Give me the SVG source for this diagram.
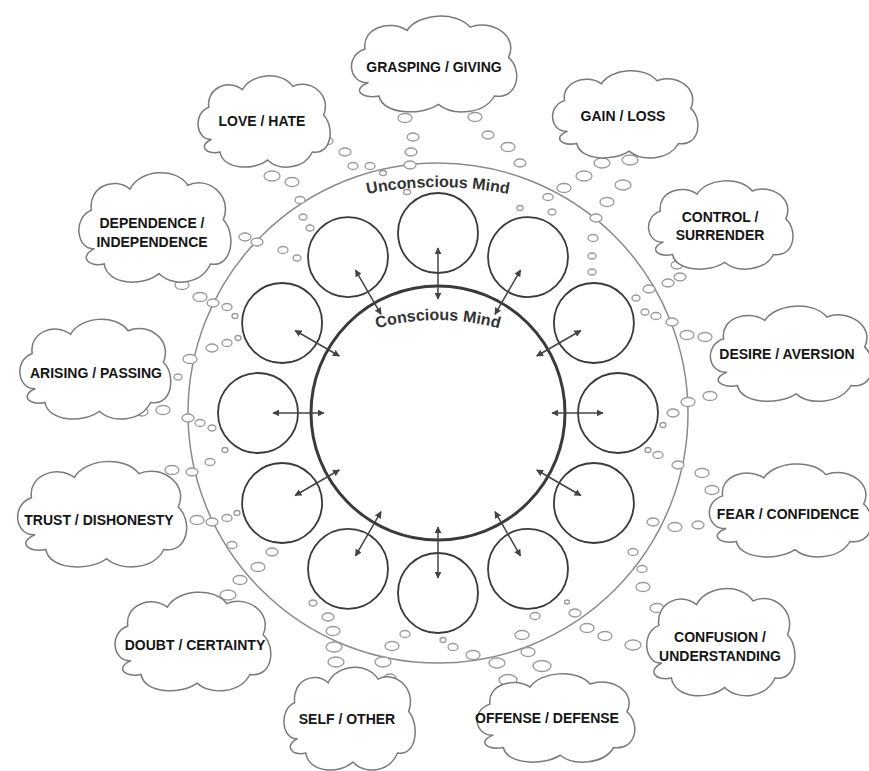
<svg xmlns="http://www.w3.org/2000/svg" xmlns:xlink="http://www.w3.org/1999/xlink" width="869" height="771" viewBox="0 0 869 771">
<style>
.cl{fill:#fff;stroke:#7a7a7a;stroke-width:1.5}
.ct{font-family:"Liberation Sans",Arial,sans-serif;font-weight:bold;font-size:14px;fill:#151515;text-anchor:middle}
.b{fill:#fff;stroke:#9a9a9a;stroke-width:1.3}
.rc{fill:#fff;stroke:#3a3a3a;stroke-width:1.8}
.ar{stroke:#444;stroke-width:1.5;fill:none;marker-start:url(#ah);marker-end:url(#ah)}
.mt{font-family:"Liberation Sans",Arial,sans-serif;font-weight:bold;font-size:16px;fill:#333;text-anchor:middle}
</style>
<defs>
<path id="cloud" vector-effect="non-scaling-stroke" d="M 14 42 C 3 43, 0 26, 12 22 C 10 10, 26 4, 36 11 C 42 1, 64 -1, 72 9 C 84 4, 100 14, 94 27 C 102 34, 100 52, 86 50 C 80 61, 62 62, 54 55 C 44 62, 22 61, 20 50 C 10 52, 4 46, 14 42 Z"/>
<marker id="ah" viewBox="0 0 10 10" refX="9" refY="5" markerWidth="7" markerHeight="7" markerUnits="userSpaceOnUse" orient="auto-start-reverse">
<path d="M0,0 L10,5 L0,10 z" fill="#444"/>
</marker>
<path id="uPath" d="M 350 198 A 360 360 0 0 1 526 198"/>
<path id="cPath" d="M 354 336 A 230 230 0 0 1 522 336"/>
</defs>
<rect width="869" height="771" fill="#fff"/>

<g id="unconscious-mind">
<circle cx="438" cy="413" r="250" fill="none" stroke="#8a8a8a" stroke-width="1.5"/>
<text class="mt"><textPath href="#uPath" startOffset="50%">Unconscious Mind</textPath></text>
</g>

<g id="bubbles">
<ellipse class="b" cx="405" cy="118" rx="7" ry="4.5"/>
<ellipse class="b" cx="475" cy="117" rx="7" ry="4.5"/>
<ellipse class="b" cx="413" cy="137" rx="6" ry="4"/>
<ellipse class="b" cx="488" cy="135" rx="6" ry="4"/>
<ellipse class="b" cx="411" cy="152" rx="6" ry="4"/>
<ellipse class="b" cx="410" cy="165" rx="6" ry="4"/>
<ellipse class="b" cx="407" cy="192" rx="3.5" ry="2.5"/>
<ellipse class="b" cx="370" cy="166" rx="5" ry="3.5"/>
<ellipse class="b" cx="383" cy="173" rx="3.5" ry="2.5"/>
<ellipse class="b" cx="328" cy="141" rx="5" ry="3.5"/>
<ellipse class="b" cx="345" cy="152" rx="6" ry="4"/>
<ellipse class="b" cx="353" cy="166" rx="5" ry="3.5"/>
<ellipse class="b" cx="272" cy="176" rx="8" ry="5"/>
<ellipse class="b" cx="292" cy="182" rx="7" ry="4.5"/>
<ellipse class="b" cx="300" cy="200" rx="5" ry="3.5"/>
<ellipse class="b" cx="303" cy="217" rx="4" ry="3"/>
<ellipse class="b" cx="310" cy="228" rx="4" ry="3"/>
<ellipse class="b" cx="283" cy="250" rx="5" ry="3.5"/>
<ellipse class="b" cx="297" cy="258" rx="4" ry="3"/>
<ellipse class="b" cx="508" cy="147" rx="7" ry="4.5"/>
<ellipse class="b" cx="520" cy="163" rx="6" ry="4"/>
<ellipse class="b" cx="602" cy="163" rx="8" ry="5"/>
<ellipse class="b" cx="630" cy="160" rx="8" ry="5"/>
<ellipse class="b" cx="584" cy="176" rx="8" ry="5"/>
<ellipse class="b" cx="623" cy="185" rx="8" ry="5"/>
<ellipse class="b" cx="564" cy="188" rx="7" ry="4.5"/>
<ellipse class="b" cx="607" cy="202" rx="7" ry="4.5"/>
<ellipse class="b" cx="548" cy="197" rx="5" ry="3.5"/>
<ellipse class="b" cx="520" cy="208" rx="3" ry="2.5"/>
<ellipse class="b" cx="552" cy="212" rx="4" ry="3"/>
<ellipse class="b" cx="596" cy="218" rx="6" ry="4"/>
<ellipse class="b" cx="593" cy="238" rx="5" ry="3.5"/>
<ellipse class="b" cx="592" cy="256" rx="4" ry="3"/>
<ellipse class="b" cx="592" cy="272" rx="4" ry="3"/>
<ellipse class="b" cx="677" cy="265" rx="6" ry="4"/>
<ellipse class="b" cx="680" cy="277" rx="6" ry="4"/>
<ellipse class="b" cx="668" cy="283" rx="6" ry="4"/>
<ellipse class="b" cx="649" cy="289" rx="6" ry="4"/>
<ellipse class="b" cx="636" cy="298" rx="4" ry="3"/>
<ellipse class="b" cx="645" cy="312" rx="4" ry="3"/>
<ellipse class="b" cx="656" cy="316" rx="5" ry="3.5"/>
<ellipse class="b" cx="672" cy="322" rx="6" ry="4"/>
<ellipse class="b" cx="687" cy="335" rx="7" ry="4.5"/>
<ellipse class="b" cx="705" cy="337" rx="7" ry="4.5"/>
<ellipse class="b" cx="688" cy="402" rx="7" ry="4.5"/>
<ellipse class="b" cx="710" cy="396" rx="7" ry="4.5"/>
<ellipse class="b" cx="673" cy="413" rx="6" ry="4"/>
<ellipse class="b" cx="663" cy="425" rx="3" ry="2.5"/>
<ellipse class="b" cx="648" cy="450" rx="3" ry="2.5"/>
<ellipse class="b" cx="658" cy="455" rx="5" ry="3.5"/>
<ellipse class="b" cx="678" cy="465" rx="6" ry="4"/>
<ellipse class="b" cx="702" cy="473" rx="7" ry="4.5"/>
<ellipse class="b" cx="712" cy="490" rx="7" ry="4.5"/>
<ellipse class="b" cx="653" cy="522" rx="6" ry="4"/>
<ellipse class="b" cx="675" cy="527" rx="7" ry="4.5"/>
<ellipse class="b" cx="698" cy="525" rx="6" ry="4"/>
<ellipse class="b" cx="633" cy="552" rx="5" ry="3.5"/>
<ellipse class="b" cx="642" cy="569" rx="5" ry="3.5"/>
<ellipse class="b" cx="643" cy="587" rx="7" ry="4.5"/>
<ellipse class="b" cx="657" cy="608" rx="7" ry="4.5"/>
<ellipse class="b" cx="633" cy="645" rx="8" ry="5"/>
<ellipse class="b" cx="605" cy="636" rx="7" ry="4.5"/>
<ellipse class="b" cx="587" cy="628" rx="7" ry="4.5"/>
<ellipse class="b" cx="575" cy="613" rx="6" ry="4"/>
<ellipse class="b" cx="567" cy="602" rx="2.5" ry="2"/>
<ellipse class="b" cx="535" cy="616" rx="5" ry="3.5"/>
<ellipse class="b" cx="522" cy="635" rx="7" ry="4.5"/>
<ellipse class="b" cx="528" cy="652" rx="7" ry="4.5"/>
<ellipse class="b" cx="542" cy="666" rx="9" ry="5.5"/>
<ellipse class="b" cx="508" cy="680" rx="9" ry="5.5"/>
<ellipse class="b" cx="497" cy="663" rx="8" ry="5"/>
<ellipse class="b" cx="473" cy="655" rx="7" ry="4.5"/>
<ellipse class="b" cx="453" cy="647" rx="5" ry="3.5"/>
<ellipse class="b" cx="443" cy="640" rx="3" ry="2.5"/>
<ellipse class="b" cx="272" cy="552" rx="6" ry="4"/>
<ellipse class="b" cx="258" cy="567" rx="7" ry="4.5"/>
<ellipse class="b" cx="240" cy="580" rx="7" ry="4.5"/>
<ellipse class="b" cx="228" cy="595" rx="8" ry="5"/>
<ellipse class="b" cx="232" cy="545" rx="5" ry="3.5"/>
<ellipse class="b" cx="313" cy="603" rx="4" ry="3"/>
<ellipse class="b" cx="328" cy="617" rx="6" ry="4"/>
<ellipse class="b" cx="333" cy="631" rx="7" ry="4.5"/>
<ellipse class="b" cx="334" cy="647" rx="8" ry="5"/>
<ellipse class="b" cx="336" cy="662" rx="8" ry="5"/>
<ellipse class="b" cx="383" cy="662" rx="8" ry="5"/>
<ellipse class="b" cx="392" cy="646" rx="7" ry="4.5"/>
<ellipse class="b" cx="405" cy="634" rx="5" ry="3.5"/>
<ellipse class="b" cx="390" cy="678" rx="6" ry="4"/>
<ellipse class="b" cx="245" cy="237" rx="6" ry="4"/>
<ellipse class="b" cx="257" cy="242" rx="6" ry="4"/>
<ellipse class="b" cx="182" cy="285" rx="7" ry="4.5"/>
<ellipse class="b" cx="200" cy="297" rx="7" ry="4.5"/>
<ellipse class="b" cx="213" cy="303" rx="6" ry="4"/>
<ellipse class="b" cx="227" cy="307" rx="5" ry="3.5"/>
<ellipse class="b" cx="235" cy="316" rx="3" ry="2.5"/>
<ellipse class="b" cx="238" cy="338" rx="3" ry="2.5"/>
<ellipse class="b" cx="227" cy="343" rx="5" ry="3.5"/>
<ellipse class="b" cx="212" cy="348" rx="6" ry="4"/>
<ellipse class="b" cx="190" cy="359" rx="7" ry="4.5"/>
<ellipse class="b" cx="178" cy="377" rx="4" ry="3"/>
<ellipse class="b" cx="163" cy="410" rx="7" ry="4.5"/>
<ellipse class="b" cx="142" cy="412" rx="6" ry="4"/>
<ellipse class="b" cx="188" cy="418" rx="6" ry="4"/>
<ellipse class="b" cx="200" cy="423" rx="5" ry="3.5"/>
<ellipse class="b" cx="212" cy="428" rx="4" ry="3"/>
<ellipse class="b" cx="225" cy="450" rx="3" ry="2.5"/>
<ellipse class="b" cx="210" cy="462" rx="5" ry="3.5"/>
<ellipse class="b" cx="192" cy="472" rx="6" ry="4"/>
<ellipse class="b" cx="172" cy="470" rx="7" ry="4.5"/>
<ellipse class="b" cx="152" cy="480" rx="7" ry="4.5"/>
<ellipse class="b" cx="170" cy="522" rx="8" ry="5"/>
<ellipse class="b" cx="197" cy="520" rx="7" ry="4.5"/>
<ellipse class="b" cx="212" cy="522" rx="6" ry="4"/>
<ellipse class="b" cx="227" cy="518" rx="5" ry="3.5"/>
<ellipse class="b" cx="237" cy="513" rx="3" ry="2.5"/>
</g>

<g id="cloud-grasping-giving">
<use href="#cloud" class="cl" transform="translate(344,12) scale(1.75,1.68)"/>
<text class="ct" x="434" y="72">GRASPING / GIVING</text>
</g>
<g id="cloud-gain-loss">
<use href="#cloud" class="cl" transform="translate(546,67) scale(1.54,1.53)"/>
<text class="ct" x="623" y="121">GAIN / LOSS</text>
</g>
<g id="cloud-control-surrender">
<use href="#cloud" class="cl" transform="translate(642,177) scale(1.53,1.55)"/>
<text class="ct" x="720" y="222">CONTROL /</text>
<text class="ct" x="720" y="240">SURRENDER</text>
</g>
<g id="cloud-desire-aversion">
<use href="#cloud" class="cl" transform="translate(703,302) scale(1.72,1.67)"/>
<text class="ct" x="787" y="359">DESIRE / AVERSION</text>
</g>
<g id="cloud-fear-confidence">
<use href="#cloud" class="cl" transform="translate(702,460) scale(1.72,1.63)"/>
<text class="ct" x="788" y="519">FEAR / CONFIDENCE</text>
</g>
<g id="cloud-confusion-understanding">
<use href="#cloud" class="cl" transform="translate(640,584) scale(1.57,1.88)"/>
<text class="ct" x="720" y="642">CONFUSION /</text>
<text class="ct" x="720" y="661">UNDERSTANDING</text>
</g>
<g id="cloud-offense-defense">
<use href="#cloud" class="cl" transform="translate(470,670) scale(1.67,1.55)"/>
<text class="ct" x="547" y="723">OFFENSE / DEFENSE</text>
</g>
<g id="cloud-self-other">
<use href="#cloud" class="cl" transform="translate(278,663) scale(1.39,1.8)"/>
<text class="ct" x="347" y="724">SELF / OTHER</text>
</g>
<g id="cloud-doubt-certainty">
<use href="#cloud" class="cl" transform="translate(108,588) scale(1.65,1.73)"/>
<text class="ct" x="195" y="650">DOUBT / CERTAINTY</text>
</g>
<g id="cloud-trust-dishonesty">
<use href="#cloud" class="cl" transform="translate(10,457) scale(1.79,1.85)"/>
<text class="ct" x="99" y="525">TRUST / DISHONESTY</text>
</g>
<g id="cloud-arising-passing">
<use href="#cloud" class="cl" transform="translate(13,315) scale(1.6,1.75)"/>
<text class="ct" x="96" y="378">ARISING / PASSING</text>
</g>
<g id="cloud-dependence-independence">
<use href="#cloud" class="cl" transform="translate(72,168) scale(1.61,1.92)"/>
<text class="ct" x="152" y="228">DEPENDENCE /</text>
<text class="ct" x="152" y="247">INDEPENDENCE</text>
</g>
<g id="cloud-love-hate">
<use href="#cloud" class="cl" transform="translate(192,72) scale(1.4,1.6)"/>
<text class="ct" x="262" y="126">LOVE / HATE</text>
</g>

<g id="ring-circles">
<circle class="rc" cx="438" cy="233" r="40"/>
<circle class="rc" cx="528" cy="257.1" r="40"/>
<circle class="rc" cx="593.9" cy="323" r="40"/>
<circle class="rc" cx="618" cy="413" r="40"/>
<circle class="rc" cx="593.9" cy="503" r="40"/>
<circle class="rc" cx="528" cy="568.9" r="40"/>
<circle class="rc" cx="438" cy="593" r="40"/>
<circle class="rc" cx="348" cy="568.9" r="40"/>
<circle class="rc" cx="282.1" cy="503" r="40"/>
<circle class="rc" cx="258" cy="413" r="40"/>
<circle class="rc" cx="282.1" cy="323" r="40"/>
<circle class="rc" cx="348" cy="257.1" r="40"/>
</g>

<g id="conscious-mind">
<circle cx="438" cy="413" r="127" fill="none" stroke="#3a3a3a" stroke-width="3"/>
<text class="mt"><textPath href="#cPath" startOffset="50%">Conscious Mind</textPath></text>
</g>

<g id="connectors">
<line class="ar" x1="438" y1="299" x2="438" y2="248"/>
<line class="ar" x1="495" y1="314.3" x2="520.5" y2="270.1"/>
<line class="ar" x1="536.7" y1="356" x2="580.9" y2="330.5"/>
<line class="ar" x1="552" y1="413" x2="603" y2="413"/>
<line class="ar" x1="536.7" y1="470" x2="580.9" y2="495.5"/>
<line class="ar" x1="495" y1="511.7" x2="520.5" y2="555.9"/>
<line class="ar" x1="438" y1="527" x2="438" y2="578"/>
<line class="ar" x1="381" y1="511.7" x2="355.5" y2="555.9"/>
<line class="ar" x1="339.3" y1="470" x2="295.1" y2="495.5"/>
<line class="ar" x1="324" y1="413" x2="273" y2="413"/>
<line class="ar" x1="339.3" y1="356" x2="295.1" y2="330.5"/>
<line class="ar" x1="381" y1="314.3" x2="355.5" y2="270.1"/>
</g>
</svg>
